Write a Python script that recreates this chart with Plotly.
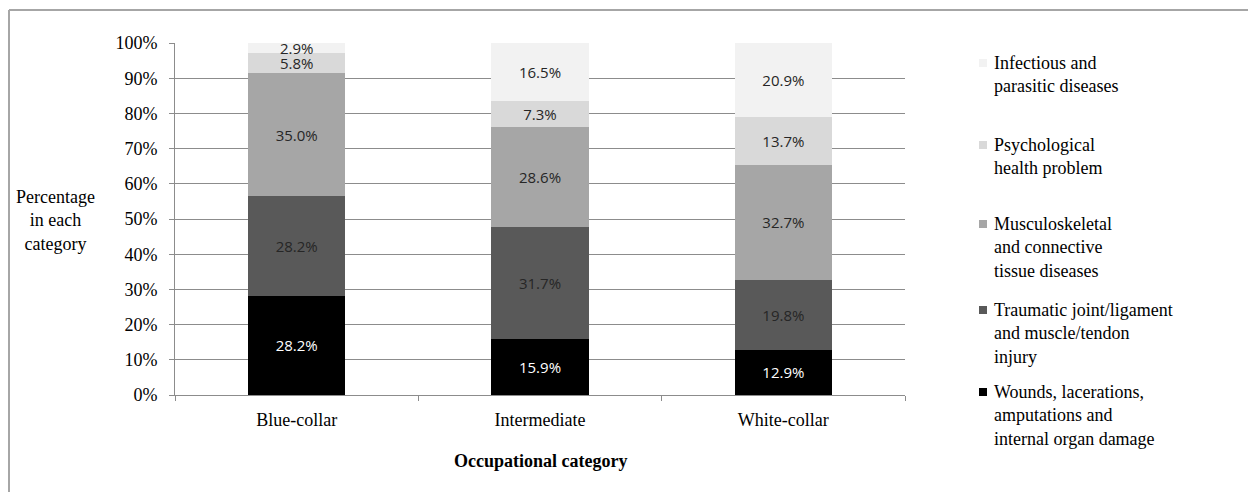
import plotly.graph_objects as go

categories = ["Blue-collar", "Intermediate", "White-collar"]

series_names = [
    "Wounds, lacerations,<br>amputations and<br>internal organ damage",
    "Traumatic joint/ligament<br>and muscle/tendon<br>injury",
    "Musculoskeletal<br>and connective<br>tissue diseases",
    "Psychological<br>health problem",
    "Infectious and<br>parasitic diseases",
]
wounds = [28.2, 15.9, 12.9]
traumatic = [28.2, 31.7, 19.8]
musculo = [35.0, 28.6, 32.7]
psych = [5.8, 7.3, 13.7]
infectious = [2.9, 16.5, 20.9]
series_values = [wounds, traumatic, musculo, psych, infectious]

colors = ["#000000", "#595959", "#a6a6a6", "#d9d9d9", "#f2f2f2"]
text_colors = ["#ffffff", "#262626", "#262626", "#262626", "#262626"]

y_ticks = [0, 10, 20, 30, 40, 50, 60, 70, 80, 90, 100]
y_tick_labels = [f"{v}%" for v in y_ticks]

W, H = 1248, 492
L, R, T, B = 175, 905, 43, 395  # plot area in pixels

SERIF = "Liberation Serif, Times New Roman, serif"
SANS = "Open Sans, DejaVu Sans, sans-serif"

fig = go.Figure()
for name, vals, c, tc in zip(series_names, series_values, colors, text_colors):
    fig.add_trace(go.Bar(
        x=categories, y=vals, name=name,
        marker=dict(color=c, line=dict(width=0)),
        text=[f"{v:.1f}%" for v in vals],
        textposition="inside", insidetextanchor="middle", textangle=0,
        textfont=dict(family=SANS, size=15, color=tc),
        showlegend=False,
    ))

def px_x(px):
    return (px - L) / (R - L)

def px_y(py):
    return (B - py) / (B - T)

annotations = []
shapes = []

# Y-axis title
annotations.append(dict(
    x=px_x(55), y=px_y(220), xref="paper", yref="paper",
    text="Percentage<br>in each<br>category", showarrow=False,
    font=dict(family=SERIF, size=18, color="#000000"), align="center",
    xanchor="center", yanchor="middle",
))
# X-axis title
annotations.append(dict(
    x=px_x(540), y=px_y(461), xref="paper", yref="paper",
    text="<b>Occupational category</b>", showarrow=False,
    font=dict(family=SERIF, size=18, color="#000000"),
    xanchor="center", yanchor="middle",
))

# Legend (manual, matching reference layout)
legend_first_line_y = [392, 310, 224, 145, 63]
for name, c, ly in zip(series_names, colors, legend_first_line_y):
    annotations.append(dict(
        x=px_x(992), y=px_y(ly - 12), xref="paper", yref="paper",
        text=name, showarrow=False, align="left",
        font=dict(family=SERIF, size=18, color="#000000"),
        xanchor="left", yanchor="top",
    ))
    shapes.append(dict(
        type="rect", xref="paper", yref="paper",
        x0=px_x(979), x1=px_x(987), y0=px_y(ly + 4), y1=px_y(ly - 4),
        fillcolor=c, line=dict(width=0),
    ))

# Outer border (top and left visible)
shapes.append(dict(type="line", xref="paper", yref="paper",
                   x0=px_x(9), x1=px_x(1260), y0=px_y(10), y1=px_y(10),
                   line=dict(color="#a6a6a6", width=2)))
shapes.append(dict(type="line", xref="paper", yref="paper",
                   x0=px_x(9), x1=px_x(9), y0=px_y(10), y1=px_y(500),
                   line=dict(color="#a6a6a6", width=2)))

fig.update_layout(
    width=W, height=H,
    margin=dict(l=L, r=W - R, t=T, b=H - B, pad=0),
    barmode="stack", bargap=0.6,
    plot_bgcolor="#ffffff", paper_bgcolor="#ffffff",
    uniformtext=dict(minsize=15, mode="show"),
    annotations=annotations, shapes=shapes,
    showlegend=False,
)
fig.update_xaxes(
    showline=True, linecolor="#8c8c8c", linewidth=1,
    ticks="outside", ticklen=5, tickcolor="#8c8c8c", tickson="boundaries",
    tickfont=dict(family=SERIF, size=18, color="#000000"),
    ticklabelstandoff=8, showgrid=False,
)
fig.update_yaxes(
    range=[0, 100], tickvals=y_ticks, ticktext=y_tick_labels,
    showline=True, linecolor="#8c8c8c", linewidth=1,
    ticks="outside", ticklen=5, tickcolor="#8c8c8c",
    showgrid=True, gridcolor="#8c8c8c", gridwidth=1,
    tickfont=dict(family=SERIF, size=18, color="#000000"),
    ticklabelstandoff=8, zeroline=False,
)

fig.write_html("out.html")
